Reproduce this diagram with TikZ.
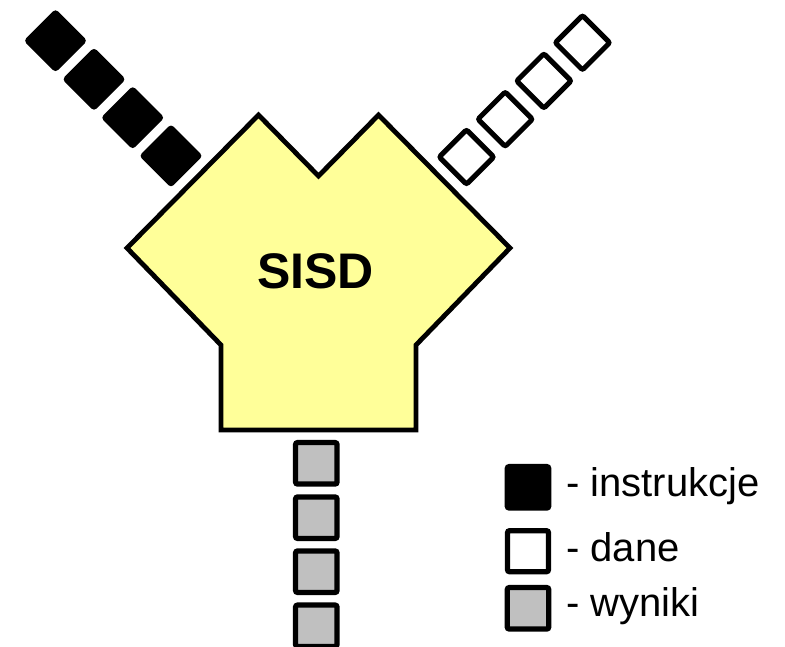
\documentclass[tikz,border=0pt]{standalone}
\usepackage{fontspec}
\setmainfont{Liberation Sans}
\begin{document}
\begin{tikzpicture}[x=1pt,y=-1pt,
  sq/.style={draw=black,rectangle,inner sep=0pt,rounded corners=2pt},
  instr/.style={sq,fill=black,line width=4pt,minimum size=41pt,rotate=45},
  dat/.style={sq,fill=white,line width=5pt,minimum size=38.5pt,rotate=45},
  res/.style={sq,fill=resgray,line width=5.2pt,minimum size=41.5pt},
  legtext/.style={anchor=base west,inner sep=0pt,font=\fontsize{40}{46}\selectfont}]
\definecolor{resgray}{HTML}{C0C0C0}
\definecolor{cpuyellow}{HTML}{FFFF99}
\useasboundingbox (0,0) rectangle (785,646);
% instruction stream
\node[instr] (i1) at (55.5,40.7) {};
\node[instr] (i2) at (94,79.3) {};
\node[instr] (i3) at (132.7,117.7) {};
\node[instr] (i4) at (171,155.9) {};
% data stream
\node[dat] (d1) at (466.5,157) {};
\node[dat] (d2) at (505.2,119.2) {};
\node[dat] (d3) at (543.9,80.9) {};
\node[dat] (d4) at (582.5,42.7) {};
% result stream
\node[res] (w1) at (316.3,463.3) {};
\node[res] (w2) at (316.3,517.7) {};
\node[res] (w3) at (316.3,571.7) {};
\node[res] (w4) at (316.3,625.8) {};
% processor
\draw[line width=4.8pt,fill=cpuyellow,line join=miter]
  (258.5,115) -- (318.5,176) -- (378.5,115) -- (510,248) -- (416,345)
  -- (416,430) -- (221,430) -- (221,345) -- (127,248) -- cycle;
\node[anchor=base,inner sep=0pt,font=\fontsize{50}{60}\selectfont\bfseries] (sisd) at (315.5,288.3) {SISD};
% legend
\node[sq,fill=black,line width=5.2pt,minimum size=41.5pt] (li) at (528,487.3) {};
\node[sq,fill=white,line width=5.2pt,minimum size=41pt] (ld) at (528,551.2) {};
\node[sq,fill=resgray,line width=5.2pt,minimum size=41.5pt] (lw) at (528,608.3) {};
\node[legtext] (ti) at (566,496.7) {- instrukcje};
\node[legtext] (td) at (566,561.7) {- dane};
\node[legtext] (tw) at (566,616.7) {- wyniki};
\end{tikzpicture}
\end{document}
